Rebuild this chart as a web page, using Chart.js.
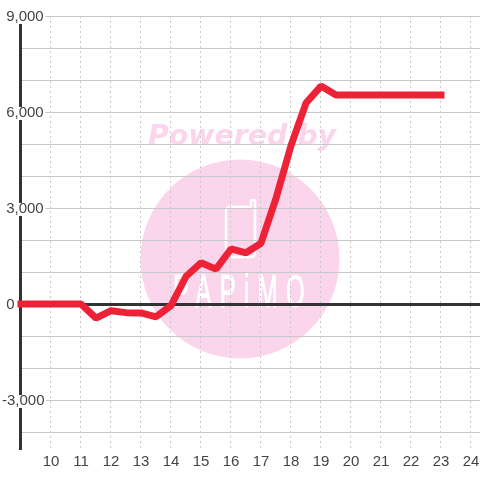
<!DOCTYPE html>
<html lang="en">
<head>
    <meta charset="UTF-8">
    <title>Line chart</title>
    <script src="https://cdn.jsdelivr.net/npm/chart.js"></script>
    <style>
        html, body { margin: 0; padding: 0; background: #fff; }
        canvas { display: block; }
    </style>
</head>
<body>
    <canvas id="chart" width="480" height="480"></canvas>
    <script>
        const hours = [9, 9.5, 10, 10.5, 11, 11.5, 12, 12.5, 13, 13.5, 14, 14.5, 15, 15.5, 16, 16.5, 17, 17.5, 18, 18.5, 19, 19.5, 20, 20.5, 21, 21.5, 22, 22.5, 23];
        const values = [0, 0, 0, 0, 0, -440, -210, -270, -280, -400, -50, 860, 1290, 1090, 1720, 1600, 1900, 3300, 4950, 6280, 6810, 6530, 6530, 6530, 6530, 6530, 6530, 6530, 6530];
        const xTicks = [9, 10, 11, 12, 13, 14, 15, 16, 17, 18, 19, 20, 21, 22, 23, 24];
        const yTicks = [-4000, -3000, -2000, -1000, 0, 1000, 2000, 3000, 4000, 5000, 6000, 7000, 8000, 9000];
        const yLabels = { '-3000': '-3,000', '0': ' 0', '3000': ' 3,000', '6000': ' 6,000', '9000': ' 9,000' };

        // watermark sits under the grid
        const watermark = {
            id: 'watermark',
            beforeDraw(chart) {
                const c = chart.ctx;
                c.save();
                c.fillStyle = '#fbd5ec';
                c.beginPath();
                c.arc(240, 259, 99.5, 0, Math.PI * 2);
                c.fill();
                c.font = 'italic bold 28.4px "DejaVu Sans"';
                c.textAlign = 'left';
                c.textBaseline = 'alphabetic';
                c.fillText('Powered by', 148, 145);

                // phone outline with its antenna
                c.strokeStyle = '#fff';
                c.lineWidth = 2.5;
                c.lineJoin = 'round';
                c.beginPath();
                c.moveTo(251, 207);
                c.lineTo(230, 207);
                c.quadraticCurveTo(226, 207, 226, 211);
                c.lineTo(226, 253);
                c.quadraticCurveTo(226, 257, 230, 257);
                c.lineTo(251, 257);
                c.quadraticCurveTo(255, 257, 255, 253);
                c.lineTo(255, 202);
                c.arc(253, 202, 2, 0, Math.PI, true);
                c.lineTo(251, 207);
                c.stroke();

                c.fillStyle = '#fff';
                c.font = '46px "Liberation Sans"';
                c.letterSpacing = '16px';
                c.lineWidth = 1;
                c.translate(173, 307);
                c.scale(0.52, 1);
                c.fillText('PAPiMO', 0, 0);
                c.strokeText('PAPiMO', 0, 0);
                c.restore();
            }
        };

        new Chart(document.getElementById('chart'), {
            type: 'line',
            data: {
                labels: hours,
                datasets: [{
                    data: hours.map((h, i) => ({ x: h, y: values[i] })),
                    borderColor: '#ee2236',
                    borderWidth: 7,
                    borderCapStyle: 'square',
                    borderJoinStyle: 'bevel',
                    tension: 0,
                    pointRadius: 0,
                    clip: false
                }]
            },
            options: {
                responsive: false,
                animation: false,
                devicePixelRatio: 1,
                layout: { padding: { top: 16, left: 0, right: 0, bottom: 0 } },
                plugins: { legend: { display: false }, tooltip: { enabled: false } },
                scales: {
                    x: {
                        type: 'linear',
                        min: 8.967,
                        max: 24.3,
                        afterBuildTicks: s => { s.ticks = xTicks.map(v => ({ value: v })); },
                        afterFit: s => { s.height = 31; s.paddingLeft = 0; s.paddingRight = 0; },
                        border: { display: false, dash: [2, 3] },
                        grid: { color: '#c8c8c8', lineWidth: 1, drawTicks: false },
                        ticks: {
                            autoSkip: false,
                            maxRotation: 0,
                            padding: 4,
                            color: '#444',
                            font: { family: '"Liberation Sans"', size: 15 },
                            callback: v => v === 9 ? '' : String(v)
                        }
                    },
                    y: {
                        min: -4531,
                        max: 9000,
                        afterBuildTicks: s => { s.ticks = yTicks.map(v => ({ value: v })); },
                        afterFit: s => { s.width = 20; },
                        border: { display: true, color: '#333', width: 3 },
                        grid: {
                            drawTicks: false,
                            color: c => c.tick && c.tick.value === 0 ? '#333' : '#c8c8c8',
                            lineWidth: c => c.tick && c.tick.value === 0 ? 3 : 1
                        },
                        ticks: {
                            autoSkip: false,
                            mirror: true,
                            padding: -18,
                            labelOffset: 1,
                            color: '#444',
                            font: { family: '"Liberation Sans"', size: 15 },
                            callback: v => yLabels[v] || '',
                            showLabelBackdrop: c => c.tick.value !== 0 && c.tick.value in yLabels,
                            backdropColor: '#fff',
                            backdropPadding: { left: 2, right: 1.5, top: -3, bottom: -2 }
                        }
                    }
                }
            },
            plugins: [watermark]
        });
    </script>
</body>
</html>
